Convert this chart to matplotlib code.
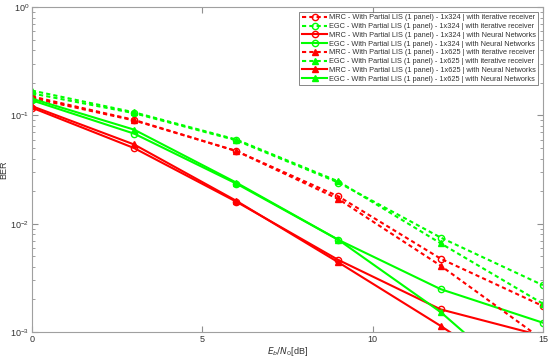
import numpy as np
import matplotlib
matplotlib.use("Agg")
import matplotlib.pyplot as plt

plt.rcParams['font.family'] = ['Liberation Sans', 'DejaVu Sans']

# Eb/N0 points
snr = [0, 3, 6, 9, 12, 15]

# BER curves
mrc_324_iter = [0.145, 0.090, 0.047, 0.0179, 0.00476, 0.00174]
egc_324_iter = [0.160, 0.105, 0.059, 0.0240, 0.00746, 0.00271]
mrc_324_nn = [0.118, 0.050, 0.0160, 0.00463, 0.00162, 0.00092]
egc_324_nn = [0.138, 0.068, 0.0235, 0.0071, 0.00249, 0.00122]
mrc_625_iter = [0.150, 0.091, 0.047, 0.0169, 0.0041, 0.00085]
egc_625_iter = [0.170, 0.107, 0.060, 0.0246, 0.0066, 0.00183]
mrc_625_nn = [0.122, 0.054, 0.0163, 0.0044, 0.00114, 0.00027]
egc_625_nn = [0.143, 0.074, 0.0240, 0.0071, 0.00153, 0.00023]

labels = [
    "MRC - With Partial LIS (1 panel) - 1x324 | with iterative receiver",
    "EGC - With Partial LIS (1 panel) - 1x324 | with iterative receiver",
    "MRC - With Partial LIS (1 panel) - 1x324 | with Neural Networks",
    "EGC - With Partial LIS (1 panel) - 1x324 | with Neural Networks",
    "MRC - With Partial LIS (1 panel) - 1x625 | with iterative receiver",
    "EGC - With Partial LIS (1 panel) - 1x625 | with iterative receiver",
    "MRC - With Partial LIS (1 panel) - 1x625 | with Neural Networks",
    "EGC - With Partial LIS (1 panel) - 1x625 | with Neural Networks",
]

fig = plt.figure(figsize=(5.5, 3.59), dpi=100)
ax = fig.add_axes([0.058, 0.075, 0.929, 0.905])

red = (1, 0, 0)
green = (0, 1, 0)
dash = (2, 1.5)
ms = 4.5

ax.semilogy(snr, mrc_324_iter, '--o', color=red, mfc='none', lw=1.5, ms=ms, dashes=dash, label=labels[0])
ax.semilogy(snr, egc_324_iter, '--o', color=green, mfc='none', lw=1.5, ms=ms, dashes=dash, label=labels[1])
ax.semilogy(snr, mrc_324_nn, '-o', color=red, mfc='none', lw=1.5, ms=ms, label=labels[2])
ax.semilogy(snr, egc_324_nn, '-o', color=green, mfc='none', lw=1.5, ms=ms, label=labels[3])
ax.semilogy(snr, mrc_625_iter, '--^', color=red, lw=1.5, ms=ms, dashes=dash, label=labels[4])
ax.semilogy(snr, egc_625_iter, '--^', color=green, lw=1.5, ms=ms, dashes=dash, label=labels[5])
ax.semilogy(snr, mrc_625_nn, '-^', color=red, lw=1.5, ms=ms, label=labels[6])
ax.semilogy(snr, egc_625_nn, '-^', color=green, lw=1.5, ms=ms, label=labels[7])

ax.set_xlim(0, 15)
ax.set_ylim(1e-3, 1)
ax.set_xticks([0, 5, 10, 15])
ax.set_xlabel("$E_b/N_0$[dB]", fontsize=6.5, labelpad=1, color='#333333')
ax.set_ylabel("BER", fontsize=6.5, labelpad=1, color='#333333')

for s in ax.spines.values():
    s.set_color('#a0a0a0')
    s.set_linewidth(0.8)
ax.tick_params(which='both', direction='in', top=True, right=True,
               colors='#909090', labelcolor='#333333', labelsize=6.5, pad=2)
ax.tick_params(which='major', length=4)
ax.tick_params(which='minor', length=2)

leg = ax.legend(loc='upper right', fontsize=5.3, frameon=True, fancybox=False,
                borderpad=0.35, labelspacing=0.22, handlelength=3.5,
                handletextpad=0.2, borderaxespad=0.6)
leg.get_frame().set_edgecolor('#505050')
leg.get_frame().set_linewidth(0.6)
for t in leg.get_texts():
    t.set_color('#333333')

fig.savefig("out.png", dpi=100)
